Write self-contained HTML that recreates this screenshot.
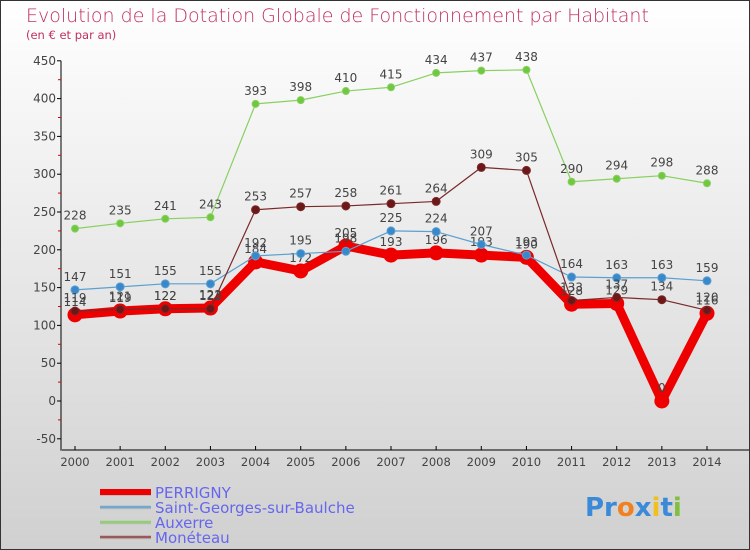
<!DOCTYPE html>
<html><head><meta charset="utf-8"><style>
body{margin:0;}
#wrap{width:750px;height:550px;position:relative;overflow:hidden;background:linear-gradient(#ffffff,#d0d0d0);font-family:"DejaVu Sans","Liberation Sans",sans-serif;}
#frame{position:absolute;left:0;top:0;width:748px;height:548px;border:1px solid #333;}
</style></head><body>
<div id="wrap">
<svg id="svg" width="750" height="550" style="position:absolute;left:0;top:0">
<text x="26" y="22" font-size="19" fill="#c03060" font-family="DejaVu Sans, sans-serif" font-weight="200">Evolution de la Dotation Globale de Fonctionnement par Habitant</text>
<text x="26" y="39" font-size="11.5" fill="#c03060">(en € et par an)</text>
<g id="axes"></g><g id="series"></g><g id="legend"></g>
<text x="585" y="516" font-size="26" font-weight="bold" font-family="DejaVu Sans, sans-serif"><tspan fill="#3a8ad8">Pr</tspan><tspan fill="#f08020">o</tspan><tspan fill="#3a8ad8">x</tspan><tspan fill="#f0c020">i</tspan><tspan fill="#3a8ad8">t</tspan><tspan fill="#80c040">i</tspan></text>
</svg>
<div id="frame"></div>
</div>
<script>
const years=["2000","2001","2002","2003","2004","2005","2006","2007","2008","2009","2010","2011","2012","2013","2014"];
const perrigny=[114,119,122,123,184,172,205,193,196,193,190,128,129,0,116];
const stGeorges=[147,151,155,155,192,195,198,225,224,207,193,164,163,163,159];
const auxerre=[228,235,241,243,393,398,410,415,434,437,438,290,294,298,288];
const moneteau=[119,121,122,122,253,257,258,261,264,309,305,133,137,134,120];
const yTicks=[-50,0,50,100,150,200,250,300,350,400,450];
const NS="http://www.w3.org/2000/svg";
const X=i=>75+i*(707-75)/14;
const Y=v=>401-v*0.756;
function mk(tag,attrs,parent){const e=document.createElementNS(NS,tag);for(const k in attrs)e.setAttribute(k,attrs[k]);parent.appendChild(e);return e;}
const ax=document.getElementById('axes');
let l=mk('line',{x1:61,y1:Y(450),x2:61,y2:Y(-50)+12,stroke:'#000'},ax);

l=mk('line',{x1:62,y1:450,x2:750,y2:450,stroke:'#000'},ax);

yTicks.forEach((v,i)=>{
  mk('line',{x1:57,y1:Y(v),x2:61,y2:Y(v),stroke:'#000'},ax);
  if(i<yTicks.length-1) mk('line',{x1:58,y1:Y(v+25),x2:61,y2:Y(v+25),stroke:'#d00'},ax);
  const t=mk('text',{x:56,y:Y(v)+4,'font-size':12,fill:'#444','text-anchor':'end'},ax);t.textContent=v;
  
});
years.forEach((y,i)=>{
  mk('line',{x1:X(i),y1:446,x2:X(i),y2:450,stroke:'#000'},ax);
  const t=mk('text',{x:X(i),y:466,'font-size':11.5,fill:'#444','text-anchor':'middle'},ax);t.textContent=y;
  
});
const sg=document.getElementById('series');
function draw(name,data,color,dot,w,r){
  const g=mk('g',{},sg);
  const p=mk('polyline',{points:data.map((v,i)=>X(i)+','+Y(v)).join(' '),fill:'none',stroke:color,'stroke-width':w,'stroke-linejoin':'round'},g);
  
  data.forEach((v,i)=>{
    const c=mk('circle',{cx:X(i),cy:Y(v),r:r,fill:dot,stroke:color,'stroke-width':1},g);
    
    const t=mk('text',{x:X(i),y:Y(v)-9,'font-size':12,fill:'#444','text-anchor':'middle'},g);t.textContent=v;
    
  });
}
draw('auxerre',auxerre,'#88d060','#70c840',1.2,3.5);
draw('perrigny',perrigny,'#ee0000','#ee0000',9,7);
draw('saint-georges',stGeorges,'#5aa0d0','#3a88cc',1.2,4);
draw('moneteau',moneteau,'#7a2828','#6a1818',1.2,4);
const lg=document.getElementById('legend');
[["PERRIGNY","#ee0000",6],["Saint-Georges-sur-Baulche","#70a8d0",2.5],["Auxerre","#90d070",2.5],["Monéteau","#9a5858",2.5]].forEach((e,i)=>{
  const y=492+i*15;
  const g=mk('g',{},lg);
  mk('line',{x1:100,y1:y+1,x2:151,y2:y+1,stroke:'#bbb','stroke-width':e[2]},g);
  mk('line',{x1:100,y1:y,x2:151,y2:y,stroke:e[1],'stroke-width':e[2]},g);
  const t=mk('text',{x:155,y:y+6,'font-size':15,fill:'#6666ee'},g);t.textContent=e[0];
});
</script>
</body></html>
